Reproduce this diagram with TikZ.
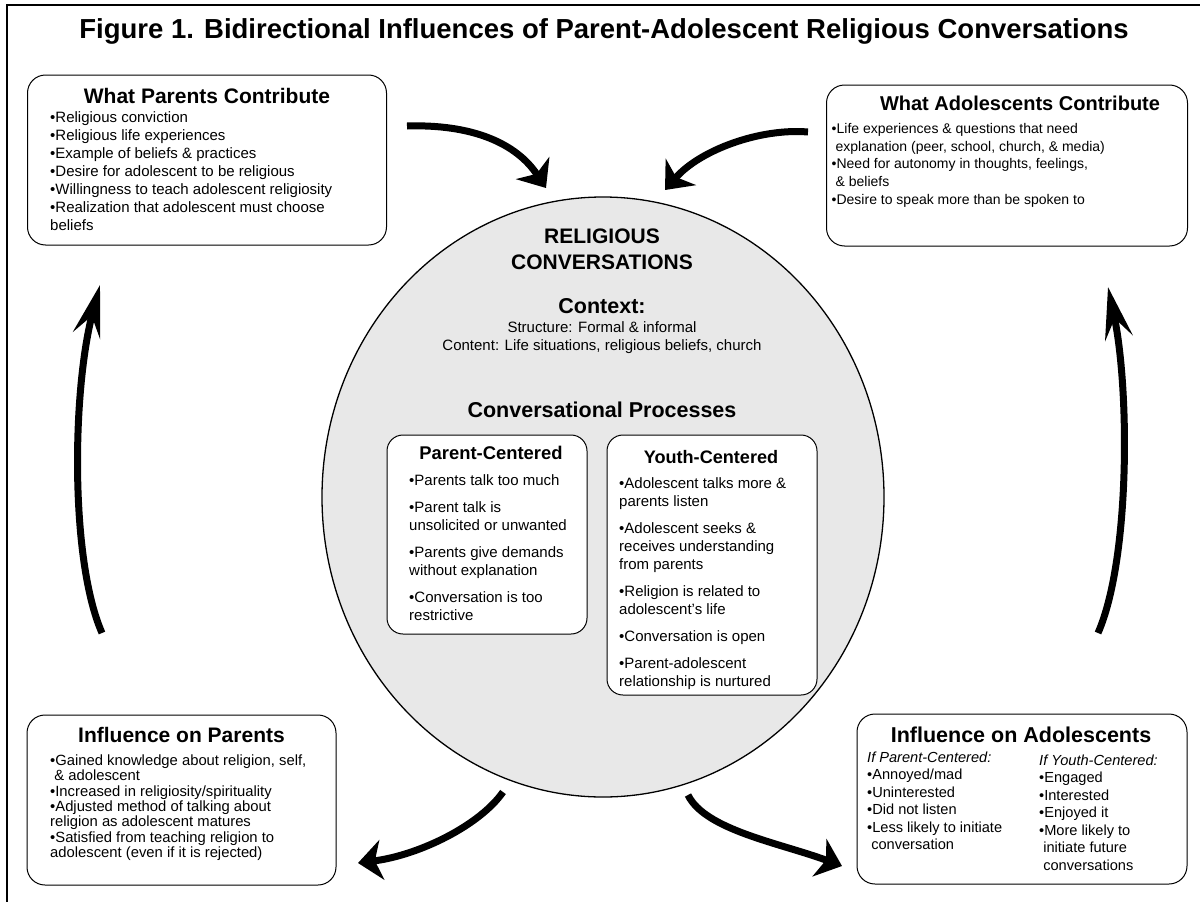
\documentclass[tikz,border=0pt]{standalone}
\usepackage{fontspec}
\setmainfont{Liberation Sans}
\usetikzlibrary{arrows.meta,shapes.geometric}
\newcommand{\fs}[2]{\fontsize{#1}{#2}\selectfont}
\newcommand{\bul}{\textbullet}
\newcommand{\ind}{\hspace*{0.28em}}

\tikzset{
  box/.style={draw, line width=1pt, rounded corners=18pt, fill=white},
  head/.style={anchor=base, inner sep=0pt, font=\bfseries\fs{21}{24}},
  items/.style={anchor=north west, align=left, inner sep=0pt},
  bigarrow/.style={line width=7pt},
  sidehead/.style={-{Stealth[length=52pt,width=28pt,inset=20pt]}},
  cornerhead/.style={-{Stealth[length=24pt,width=40pt,inset=7pt]}}
}

\begin{document}
\begin{tikzpicture}[x=1pt,y=-1pt]
  \useasboundingbox (0,0) rectangle (1200,902);
  \draw[line width=1.2pt] (7,902) -- (7,5) -- (1200,5);
  \node[head, font=\bfseries\fs{27.5}{31}] (title) at (604,38) {Figure 1. Bidirectional Influences of Parent-Adolescent Religious Conversations};

  % the four outer boxes
  \node[box, minimum width=359pt, minimum height=170pt] (pbox) at (207,160) {};
  \node[box, minimum width=361pt, minimum height=161pt] (abox) at (1007,165.5) {};
  \node[box, minimum width=309pt, minimum height=170pt] (ipbox) at (181.5,800) {};
  \node[box, minimum width=330pt, minimum height=170pt] (iabox) at (1022,799) {};

  \node[head] (phead) at (207,103.5) {What Parents Contribute};
  \node[items, font=\fs{15}{18}] (plist) at (50,111.5) {\bul Religious conviction\\
    \bul Religious life experiences\\
    \bul Example of beliefs \& practices\\
    \bul Desire for adolescent to be religious\\
    \bul Willingness to teach adolescent religiosity\\
    \bul Realization that adolescent must choose\\
    beliefs};

  \node[head, font=\bfseries\fs{20}{23}] (ahead) at (1020,110) {What Adolescents Contribute};
  \node[items, font=\fs{14}{17.75}] (alist) at (831.5,123) {\bul Life experiences \& questions that need\\
    \ind explanation (peer, school, church, \& media)\\
    \bul Need for autonomy in thoughts, feelings,\\
    \ind \& beliefs\\
    \bul Desire to speak more than be spoken to};

  \node[head] (iphead) at (181.5,742.5) {Influence on Parents};
  \node[items, font=\fs{14.8}{15.3}] (iplist) at (50,754.6) {\bul Gained knowledge about religion, self,\\
    \ind \& adolescent\\
    \bul Increased in religiosity/spirituality\\
    \bul Adjusted method of talking about\\
    religion as adolescent matures\\
    \bul Satisfied from teaching religion to\\
    adolescent (even if it is rejected)};

  \node[head, font=\bfseries\fs{21.5}{24}] (iahead) at (1021,742.5) {Influence on Adolescents};
  \node[items, font=\fs{14.6}{17.5}] (ialeft) at (867,751.7) {\textit{If Parent-Centered:}\\
    \bul Annoyed/mad\\
    \bul Uninterested\\
    \bul Did not listen\\
    \bul Less likely to initiate\\
    \ind conversation};
  \node[items, font=\fs{14.6}{17.5}] (iaright) at (1039,754.7) {\textit{If Youth-Centered:}\\
    \bul Engaged\\
    \bul Interested\\
    \bul Enjoyed it\\
    \bul More likely to\\
    \ind initiate future\\
    \ind conversations};

  % the conversation circle
  \node[ellipse, draw, line width=1.3pt, fill=gray!18, inner sep=0pt,
    minimum width=562pt, minimum height=600pt] (conv) at (603,497) {};
  \node[head, align=center, font=\bfseries\fs{21}{26}] (relhead) at (602,269.5) {RELIGIOUS\\CONVERSATIONS};
  \node[head, font=\bfseries\fs{21.5}{24}] (ctxhead) at (602,313.5) {Context:};
  \node[items, anchor=north, align=center, font=\fs{15}{18}] (ctxlist) at (602,321.5) {Structure: Formal \& informal\\
    Content: Life situations, religious beliefs, church};
  \node[head, font=\bfseries\fs{21.5}{24}] (prochead) at (602,417.5) {Conversational Processes};

  \node[box, rounded corners=16pt, minimum width=200pt, minimum height=199pt] (pcbox) at (487,534.5) {};
  \node[box, rounded corners=16pt, minimum width=210pt, minimum height=260pt] (ycbox) at (712,565) {};
  \node[head, font=\bfseries\fs{18.4}{22}] (pchead) at (491,459.5) {Parent-Centered};
  \node[head, font=\bfseries\fs{18.1}{22}] (ychead) at (711,463.5) {Youth-Centered};
  \node[items, font=\fs{15}{18}] (pclist) at (409,474.5) {\bul Parents talk too much\\[9pt]
    \bul Parent talk is\\
    unsolicited or unwanted\\[9pt]
    \bul Parents give demands\\
    without explanation\\[9pt]
    \bul Conversation is too\\
    restrictive};
  \node[items, font=\fs{15}{18}] (yclist) at (619,477.5) {\bul Adolescent talks more \&\\
    parents listen\\[9pt]
    \bul Adolescent seeks \&\\
    receives understanding\\
    from parents\\[9pt]
    \bul Religion is related to\\
    adolescent's life\\[9pt]
    \bul Conversation is open\\[9pt]
    \bul Parent-adolescent\\
    relationship is nurtured};

  % curved arrows
  \coordinate (tla) at (407,126);
  \coordinate (tlb) at (546,188);
  \coordinate (tra) at (808,132);
  \coordinate (trb) at (665,190);
  \coordinate (la) at (102,633);
  \coordinate (lb) at (100,285);
  \coordinate (ra) at (1098,633);
  \coordinate (rb) at (1108,287);
  \coordinate (bla) at (503,792);
  \coordinate (blb) at (358,863);
  \coordinate (bra) at (688,795);
  \coordinate (brb) at (842,866);
  \draw[bigarrow, cornerhead] (tla) .. controls +(65,-2) and +(-30,-45) .. (tlb);
  \draw[bigarrow, cornerhead] (tra) .. controls +(-48,-4) and +(35,-40) .. (trb);
  \draw[bigarrow, sidehead] (la) .. controls +(-32,-73) and +(-28,105) .. (lb);
  \draw[bigarrow, sidehead] (ra) .. controls +(32,-73) and +(22,103) .. (rb);
  \draw[bigarrow, cornerhead] (bla) .. controls +(-23,33) and +(62,-8) .. (blb);
  \draw[bigarrow, cornerhead] (bra) .. controls +(17,35) and +(-62,-23) .. (brb);
\end{tikzpicture}
\end{document}
